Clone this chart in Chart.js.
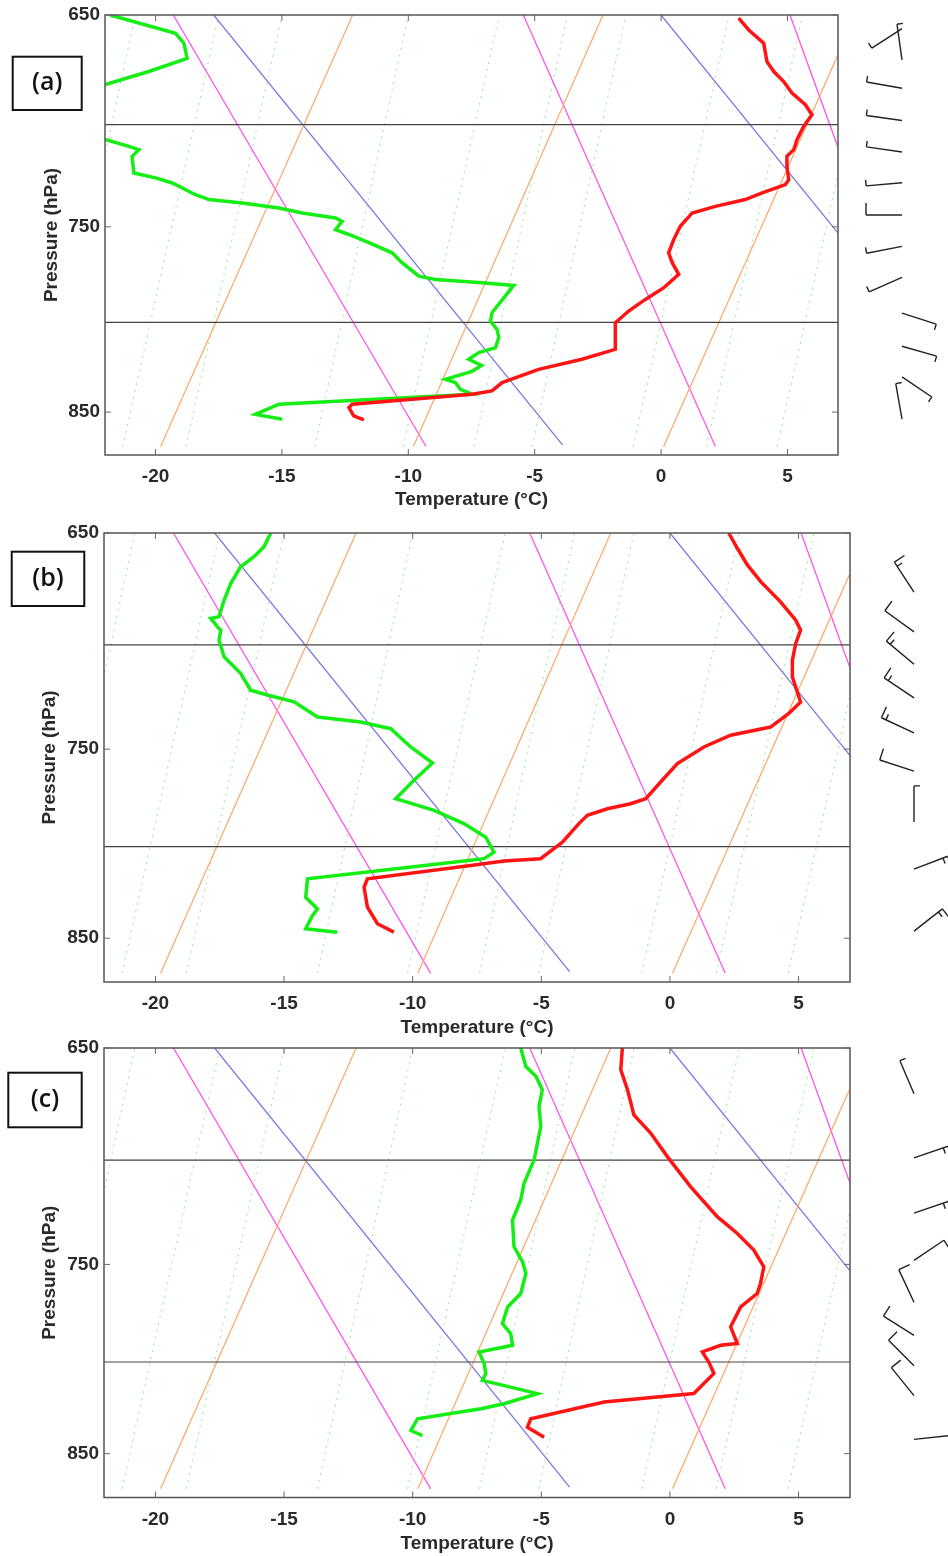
<!DOCTYPE html>
<html>
<head>
<meta charset="utf-8">
<script src="https://cdn.jsdelivr.net/npm/chart.js@4.4.1/dist/chart.umd.min.js"></script>
<style>
  body { margin: 0; background: #fff; width: 948px; height: 1556px; position: relative; overflow: hidden; }
  .panel { position: absolute; left: 0; width: 948px; }
</style>
</head>
<body>
<div class="panel" style="top:0;height:518px"><canvas id="chartA" width="948" height="518"></canvas></div>
<div class="panel" style="top:518px;height:522px"><canvas id="chartB" width="948" height="522"></canvas></div>
<div class="panel" style="top:1040px;height:516px"><canvas id="chartC" width="948" height="516"></canvas></div>
<script>
// axis ticks
const tTicks = [-20, -15, -10, -5, 0, 5];
const pTicks = [650, 750, 850];
const refPres = [700, 800];

// background lines, T at the bottom (870 hPa) and at the top (650 hPa)
const isoBottomT = [-19.8, -9.8, 0.1];
const isoTopT = [-12.2, -2.3, 7.7];
const dryTopT = [-19.3, -5.45, 5.1];
const dryBottomT = [-9.3, 2.15, 11.3];
const moistTopT = [-17.7, 0.0];
const moistBottomT = [-3.9, 13.8];
const mixBottomT = [-24.5, -21.3, -18.8, -13.7, -10.2, -7.4, -5.1, -1.1, 1.8, 4.6];
const mixTopT = [-20.8, -17.5, -15.0, -10.0, -6.4, -3.7, -1.4, 2.7, 5.6, 8.4];

// soundings [T, p]
const tempA = [[3.07,651.4],[3.47,656.6],[4.06,662.5],[4.13,667.0],[4.19,670.8],[4.46,675.3],[4.85,679.9],[5.18,685.2],[5.71,690.6],[5.97,695.3],[5.64,700.8],[5.38,707.1],[5.25,711.9],[4.98,715.1],[4.98,720.0],[5.05,726.5],[4.92,728.9],[4.0,733.0],[3.33,736.3],[2.15,739.7],[1.23,743.0],[0.76,749.7],[0.5,756.5],[0.3,763.3],[0.44,768.4],[0.7,774.5],[0.11,781.5],[-0.62,787.7],[-1.28,793.9],[-1.81,800.2],[-1.81,814.7],[-3.13,820.2],[-4.84,825.8],[-6.29,833.2],[-6.69,837.9],[-7.48,839.8],[-12.22,845.5],[-12.35,847.4],[-12.16,852.2],[-11.76,854.5]];
const dewA = [[-21.8,650],[-19.21,658.1],[-18.88,662.5],[-18.75,669.3],[-20.27,675.3],[-22.2,682],[null,null],[-22.0,707],[-21.06,710.3],[-20.66,711.9],[-20.93,715.1],[-20.86,723.2],[-20.0,725.6],[-19.34,728.1],[-18.42,733.9],[-17.89,736.3],[-16.57,738.0],[-15.12,740.5],[-14.2,743.0],[-12.88,745.5],[-12.62,747.2],[-12.88,751.4],[-12.35,753.9],[-11.56,758.1],[-10.64,763.3],[-10.25,768.4],[-9.58,775.4],[-8.93,777.2],[-7.08,778.9],[-5.83,780.3],[-6.69,794.8],[-6.75,799.4],[-6.49,803.8],[-6.42,808.3],[-6.55,813.8],[-7.21,816.5],[-7.61,820.2],[-7.1,823.6],[-7.48,826.9],[-8.53,831.4],[-8.14,833.2],[-7.94,837.0],[-7.48,839.8],[-15.12,845.5],[-16.05,851.3],[-14.99,854.1]];

const tempB = [[2.29,650.1],[2.62,656.6],[3.01,663.9],[3.53,671.3],[4.3,680.3],[4.89,688.6],[5.08,693.2],[4.89,699.3],[4.76,707.1],[4.76,715.0],[5.08,726.9],[4.62,732.5],[3.91,739.1],[2.36,743.1],[1.32,748.9],[0.29,757.2],[-0.3,765.6],[-0.94,775.0],[-1.53,777.6],[-2.43,780.2],[-3.21,783.6],[-3.54,787.9],[-4.18,797.6],[-4.51,801.1],[-5.03,806.4],[-6.45,807.7],[-7.75,810.0],[-11.76,817.2],[-11.89,821.8],[-11.76,832.7],[-11.37,841.9],[-10.73,846.6]];
const dewB = [[-15.52,650.1],[-15.78,655.9],[-16.17,660.3],[-16.69,664.7],[-17.07,672.0],[-17.33,679.5],[-17.53,687.1],[-17.85,687.8],[-17.59,691.7],[-17.46,693.2],[-17.53,697.8],[-17.33,705.5],[-16.69,713.3],[-16.3,721.3],[-15.65,723.6],[-14.61,726.9],[-13.7,734.2],[-12.02,736.6],[-10.85,739.9],[-10.08,748.9],[-9.23,756.9],[-9.95,765.6],[-10.66,775.0],[-9.17,781.0],[-8.01,787.9],[-7.16,795.0],[-6.84,802.9],[-7.23,806.4],[-7.75,807.3],[-14.09,817.2],[-14.16,827.3],[-13.7,833.7],[-13.9,837.4],[-14.16,844.7],[-12.93,846.6]];

const tempC = [[-1.85,650],[-1.91,659.4],[-1.65,668.2],[-1.4,679.4],[-0.75,687.6],[-0.1,698.4],[0.8,712.4],[1.84,726.7],[2.62,734.8],[3.26,742.9],[3.65,751.2],[3.52,759.5],[3.39,764.6],[2.75,771.4],[2.36,781.6],[2.62,790.3],[1.97,791.2],[1.26,794.7],[1.51,800.0],[1.71,806.1],[0.93,816.9],[-2.56,821.5],[-5.41,830.6],[-5.54,835.3],[-4.89,840.8]];
const dewC = [[-5.8,650],[-5.6,658.0],[-5.21,662.3],[-4.96,668.2],[-5.09,675.6],[-5.02,684.6],[-5.15,692.2],[-5.28,699.9],[-5.67,710.8],[-5.8,718.7],[-6.12,728.3],[-6.06,741.3],[-5.73,748.7],[-5.6,754.5],[-5.8,764.6],[-6.31,771.4],[-6.51,780.0],[-6.19,785.2],[-6.12,791.2],[-7.42,794.7],[-7.22,800.9],[-7.16,806.2],[-7.29,809.8],[-5.15,816.9],[-6.45,822.4],[-7.35,825.1],[-9.81,830.6],[-10.07,837.1],[-9.62,839.9]];

// wind barbs: level (hPa), direction (deg), speed (kt)
const barbPresA = [656, 670, 683, 698, 713, 728, 744, 760, 776, 795, 813, 830, 854];
const barbDirA = [237, 352, 280, 278, 278, 265, 270, 259, 246, 108, 106, 124, 350];
const barbSpdA = [5, 5, 5, 5, 5, 5, 10, 5, 5, 5, 5, 5, 5];
const barbPresB = [676, 694, 709, 725, 742, 761, 787, 812, 846];
const barbDirB = [327, 306, 310, 304, 295, 288, 360, 69, 52];
const barbSpdB = [15, 10, 15, 15, 15, 10, 5, 15, 15];
const barbPresC = [670, 699, 725, 748, 769, 786, 802, 818, 842];
const barbDirC = [337, 71, 71, 56, 335, 302, 315, 321, 84];
const barbSpdC = [5, 15, 15, 10, 10, 10, 10, 10, 5];

const FONT = '"Liberation Sans", Arial, sans-serif';
const TEXT = '#2a2a2a';

function toXY(arr) {
  return arr.map(([t, p]) => ({ x: t, y: p }));
}

function seg(t1, p1, t2, p2) {
  return [{ x: t1, y: p1 }, { x: t2, y: p2 }];
}

function lineSet(data, color, width, dash) {
  return {
    data, showLine: true, borderColor: color, borderWidth: width,
    borderDash: dash || [], pointRadius: 0, tension: 0, fill: false
  };
}

function backgroundSets() {
  const sets = [];
  refPres.forEach(p => sets.push(lineSet(seg(-22, p, 7, p), '#444', 1.2)));
  isoBottomT.forEach((t, i) => sets.push(lineSet(seg(t, 870, isoTopT[i], 650), '#ffa666', 1.2)));
  dryTopT.forEach((t, i) => sets.push(lineSet(seg(t, 650, dryBottomT[i], 870), '#ff55ee', 1.3)));
  moistTopT.forEach((t, i) => sets.push(lineSet(seg(t, 650, moistBottomT[i], 869), '#7a7ae0', 1.3)));
  mixBottomT.forEach((t, i) => sets.push(lineSet(seg(t, 870, mixTopT[i], 650), 'rgba(110,215,130,0.7)', 1, [2, 5])));
  return sets;
}

// frame, inner ticks, panel tag and wind barbs
const skewFrame = {
  id: 'skewFrame',
  afterDraw(chart, args, opts) {
    const { ctx, chartArea: a, scales: { x, y } } = chart;
    ctx.save();
    ctx.strokeStyle = '#555';
    ctx.lineWidth = 1.5;
    ctx.strokeRect(a.left, a.top, a.right - a.left, a.bottom - a.top);
    ctx.lineWidth = 1;
    ctx.strokeStyle = '#666';
    ctx.beginPath();
    tTicks.forEach(t => {
      const px = x.getPixelForValue(t);
      ctx.moveTo(px, a.bottom); ctx.lineTo(px, a.bottom - 6);
      ctx.moveTo(px, a.top); ctx.lineTo(px, a.top + 6);
    });
    pTicks.forEach(p => {
      const py = y.getPixelForValue(p);
      ctx.moveTo(a.left, py); ctx.lineTo(a.left + 6, py);
      ctx.moveTo(a.right, py); ctx.lineTo(a.right - 6, py);
    });
    ctx.stroke();

    const tag = opts.tag;
    ctx.strokeStyle = '#111';
    ctx.lineWidth = 2;
    ctx.strokeRect(tag.x, tag.y, tag.w, tag.h);
    ctx.fillStyle = '#111';
    ctx.font = '600 25px "Open Sans", sans-serif';
    ctx.textAlign = 'center';
    ctx.textBaseline = 'middle';
    ctx.fillText(tag.text, tag.x + tag.w / 2, tag.y + tag.h / 2);

    // wind barbs to the right of the plot
    const b = opts.barbs;
    const x0 = a.right + 64;
    ctx.strokeStyle = '#222';
    ctx.lineWidth = 1.4;
    b.pres.forEach((p, i) => {
      const y0 = y.getPixelForValue(p);
      const rad = b.dir[i] * Math.PI / 180;
      const ux = Math.sin(rad), uy = -Math.cos(rad);
      const fx = -uy, fy = ux;
      const len = 36;
      const tx = x0 + ux * len, ty = y0 + uy * len;
      ctx.beginPath();
      ctx.moveTo(x0, y0); ctx.lineTo(tx, ty);
      let spd = b.spd[i];
      let k = 0;
      while (spd >= 10) {
        const sx = tx - ux * k * 5, sy = ty - uy * k * 5;
        ctx.moveTo(sx, sy); ctx.lineTo(sx + fx * 12, sy + fy * 12);
        spd -= 10; k++;
      }
      if (spd >= 5) {
        const sx = tx - ux * k * 5, sy = ty - uy * k * 5;
        ctx.moveTo(sx, sy); ctx.lineTo(sx + fx * 6, sy + fy * 6);
      }
      ctx.stroke();
    });
    ctx.restore();
  }
};

function makeSkewChart(id, temp, dew, pad, yWidth, xHeight, tickPad, titlePadB, titlePadT, tag, barbs) {
  const datasets = [
    lineSet(toXY(temp), '#ff1414', 3.5),
    lineSet(toXY(dew), '#14ee14', 3.5)
  ].concat(backgroundSets());
  return new Chart(document.getElementById(id), {
    type: 'scatter',
    data: { datasets },
    options: {
      responsive: false,
      animation: false,
      spanGaps: false,
      layout: { padding: pad, autoPadding: false },
      plugins: {
        legend: { display: false },
        tooltip: { enabled: false },
        skewFrame: { tag, barbs }
      },
      scales: {
        x: {
          type: 'linear', min: -22, max: 7,
          afterBuildTicks: s => { s.ticks = tTicks.map(v => ({ value: v })); },
          afterFit: s => { s.height = xHeight; s.paddingLeft = 0; s.paddingRight = 0; },
          grid: { display: false, drawTicks: false },
          border: { display: false },
          ticks: { callback: v => String(v), padding: tickPad, maxRotation: 0, autoSkip: false,
                   color: TEXT, font: { family: FONT, size: 19, weight: 'bold' } },
          title: { display: true, text: 'Temperature (°C)', color: TEXT,
                   font: { family: FONT, size: 19, weight: 'bold' }, padding: { top: 0, bottom: titlePadB } }
        },
        y: {
          type: 'logarithmic', reverse: true, min: 650, max: 875,
          afterBuildTicks: s => { s.ticks = pTicks.map(v => ({ value: v })); },
          afterFit: s => { s.width = yWidth; s.paddingTop = 0; s.paddingBottom = 0; },
          grid: { display: false, drawTicks: false },
          border: { display: false },
          ticks: { callback: v => String(v), padding: 5, autoSkip: false,
                   color: TEXT, font: { family: FONT, size: 19, weight: 'bold' } },
          title: { display: true, text: 'Pressure (hPa)', color: TEXT,
                   font: { family: FONT, size: 19, weight: 'bold' }, padding: { top: titlePadT, bottom: 0 } }
        }
      }
    },
    plugins: [skewFrame]
  });
}

makeSkewChart('chartA', tempA, dewA, { top: 15, right: 110, left: 0, bottom: 0 }, 105, 63, 10, 7, 40,
  { x: 12.7, y: 56.7, w: 69, h: 53.3, text: '(a)' },
  { pres: barbPresA, dir: barbDirA, spd: barbSpdA });
makeSkewChart('chartB', tempB, dewB, { top: 15, right: 98, left: 0, bottom: 0 }, 104, 58, 10, 1, 38,
  { x: 11.7, y: 33.7, w: 72.6, h: 54.3, text: '(b)' },
  { pres: barbPresB, dir: barbDirB, spd: barbSpdB });
makeSkewChart('chartC', tempC, dewC, { top: 8, right: 98, left: 0, bottom: 0 }, 104, 58.5, 11, 1, 38,
  { x: 8.3, y: 32.7, w: 73.4, h: 54.6, text: '(c)' },
  { pres: barbPresC, dir: barbDirC, spd: barbSpdC });
</script>
</body>
</html>
